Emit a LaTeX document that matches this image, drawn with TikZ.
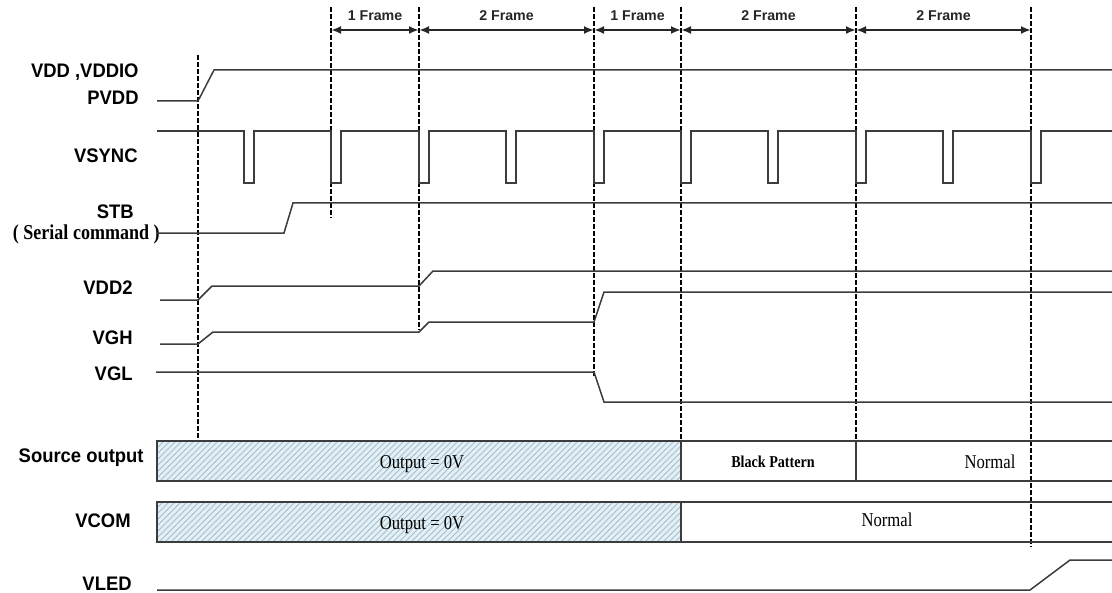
\documentclass[tikz,border=0pt]{standalone}
\usepackage{fontspec}
\setmainfont{Liberation Sans}
\newfontfamily\lblfont{Liberation Sans}[FakeStretch=0.94]
\newfontfamily\serfont{Liberation Serif}[FakeStretch=0.85]
\usetikzlibrary{patterns,arrows.meta}
\definecolor{wave}{RGB}{60,60,60}
\definecolor{hatchbg}{RGB}{226,240,247}
\definecolor{hatchln}{RGB}{170,190,200}
\tikzset{
	sig/.style={wave, line width=0.75pt},
	guide/.style={black, line width=1.2pt, dash pattern=on 2.5pt off 1pt},
	frm/.style={{Latex[length=5pt,width=4pt]}-{Latex[length=5pt,width=4pt]}, line width=1.3pt, black!85},
	lbl/.style={anchor=base east, inner sep=0pt, font=\lblfont\bfseries\fontsize{9.8}{11}\selectfont},
	frmlbl/.style={midway, above=4pt, inner sep=0pt, font=\bfseries\fontsize{7.1}{8}\selectfont},
	boxtxt/.style={anchor=base, inner sep=0pt, font=\serfont\fontsize{9.8}{11}\selectfont}
}
\begin{document}
\begin{tikzpicture}[x=0.5pt, y=-0.5pt]
	\useasboundingbox (0,0) rectangle (1112,593);

	\coordinate (l1) at (198,55);
	\coordinate (l2) at (331,7);
	\coordinate (l3) at (419,7);
	\coordinate (l4) at (594,7);
	\coordinate (l5) at (681,7);
	\coordinate (l6) at (856,7);
	\coordinate (l7) at (1031,7);

	\draw[guide] (l1) -- ++(0,386);
	\draw[guide] (l2) -- ++(0,211);
	\draw[guide] (l3) -- ++(0,323);
	\draw[guide] (l4) -- ++(0,370);
	\draw[guide] (l5) -- ++(0,434);
	\draw[guide] (l6) -- ++(0,434);
	\draw[guide] (l7) -- ++(0,540);

	\draw[frm] (l2) ++(0,23) coordinate (f2) -- (l3 |- f2) coordinate (f3) node[frmlbl] {1 Frame};
	\draw[frm] (f3) -- (l4 |- f2) coordinate (f4) node[frmlbl] {2 Frame};
	\draw[frm] (f4) -- (l5 |- f2) coordinate (f5) node[frmlbl] {1 Frame};
	\draw[frm] (f5) -- (l6 |- f2) coordinate (f6) node[frmlbl] {2 Frame};
	\draw[frm] (f6) -- (l7 |- f2) coordinate (f7) node[frmlbl] {2 Frame};

	\node[lbl] (vdd) at (139,78) {VDD ,VDDIO};
	\node[lbl] (pvdd) at (139,105) {PVDD};
	\node[lbl] (vsync) at (138,163) {VSYNC};
	\node[lbl] (stb) at (134,219) {STB};
	\node[anchor=base east, inner sep=0pt, font=\serfont\bfseries\fontsize{10.6}{12}\selectfont] (serial) at (160,239) {( Serial command )};
	\node[lbl] (vdd2) at (133,294) {VDD2};
	\node[lbl] (vgh) at (133,344) {VGH};
	\node[lbl] (vgl) at (133,380) {VGL};
	\node[lbl] (src) at (144,462) {Source output};
	\node[lbl] (vcom) at (131,527) {VCOM};
	\node[lbl] (vled) at (132,590) {VLED};

	\draw[sig] (157,101) -- (198,101) -- (214,70) -- (1112,70);
	\draw[sig] (157,131) foreach \p in {244,331,419,506,594,681,768,856,943,1031} { -- (\p,131) -- ++(0,52) -- ++(10,0) -- ++(0,-52) } -- (1112,131);
	\draw[sig] (157,233) -- (284,233) -- (293,203) -- (1112,203);
	\draw[sig] (160,300) -- (198,300) -- (212,286) -- (419,286) -- (433,271) -- (1112,271);
	\draw[sig] (160,344) -- (198,344) -- (213,332) -- (419,332) -- (429,322) -- (594,322) -- (604,292) -- (1112,292);
	\draw[sig] (156,372) -- (594,372) -- (604,402) -- (1112,402);
	\draw[sig] (157,590) -- (1030,590) -- (1070,560) -- (1112,560);

	\fill[hatchbg] (157,441) rectangle (681,481);
	\path[pattern=north east lines, pattern color=hatchln] (157,441) rectangle (681,481);
	\fill[hatchbg] (157,502) rectangle (681,542);
	\path[pattern=north east lines, pattern color=hatchln] (157,502) rectangle (681,542);

	\draw[sig] (1112,441) -- (157,441) -- (157,481) -- (1112,481);
	\draw[sig] (681,441) -- (681,481);
	\draw[sig] (856,441) -- (856,481);
	\draw[sig] (1112,502) -- (157,502) -- (157,542) -- (1112,542);
	\draw[sig] (681,502) -- (681,542);

	\node[boxtxt] (out1) at (422,468) {Output = 0V};
	\node[boxtxt, font=\serfont\bfseries\fontsize{8.3}{10}\selectfont] (black) at (773,467) {Black Pattern};
	\node[boxtxt] (norm1) at (990,468) {Normal};
	\node[boxtxt] (out2) at (422,529) {Output = 0V};
	\node[boxtxt] (norm2) at (887,526) {Normal};
\end{tikzpicture}
\end{document}
